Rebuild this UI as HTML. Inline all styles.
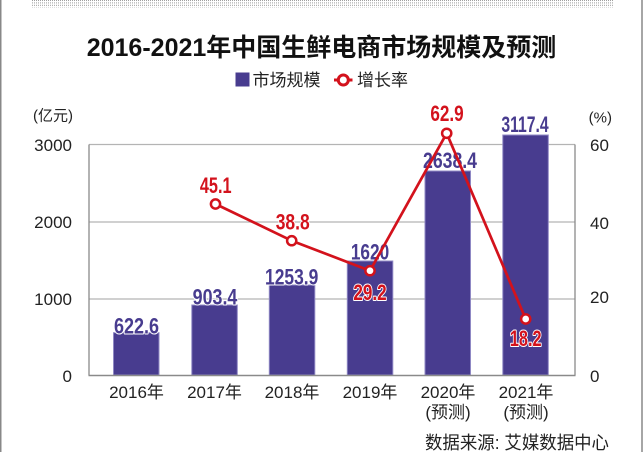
<!DOCTYPE html>
<html><head><meta charset="utf-8"><style>
html,body{margin:0;padding:0;background:#fff;}
svg{display:block;}
text{font-family:"Liberation Sans","Noto Sans CJK SC",sans-serif;}
.v{font-weight:bold;font-size:22px;paint-order:stroke;stroke:#fff;stroke-width:2px;stroke-linejoin:round;}
</style></head><body>
<svg width="644" height="470" viewBox="0 0 644 470" xmlns="http://www.w3.org/2000/svg">
<defs>
<pattern id="dots" x="0" y="0" width="2" height="2.4" patternUnits="userSpaceOnUse">
<rect x="0" y="0" width="1" height="1" fill="#9a9a9a"/>
</pattern>
</defs>
<rect x="0" y="0" width="644" height="470" fill="#fff"/>
<rect x="32" y="0" width="581" height="7.5" fill="url(#dots)"/>
<line x1="0.75" y1="0" x2="0.75" y2="452" stroke="#888" stroke-width="1.5"/>
<line x1="642" y1="0" x2="642" y2="452" stroke="#888" stroke-width="1.5"/>

<text x="321.5" y="56" text-anchor="middle" font-size="25" font-weight="bold" fill="#111">2016-2021年中国生鲜电商市场规模及预测</text>

<rect x="235.5" y="72.5" width="14" height="14" fill="#483c8f"/>
<text x="252.5" y="86" font-size="17" fill="#222">市场规模</text>
<line x1="334" y1="80" x2="352.5" y2="80" stroke="#d3121c" stroke-width="3"/>
<circle cx="343.3" cy="80" r="5" fill="#fff" stroke="#d3121c" stroke-width="3"/>
<text x="357" y="86" font-size="17" fill="#222">增长率</text>

<text x="73" y="120.5" text-anchor="end" font-size="15" fill="#222">(亿元)</text>
<text x="612" y="122.5" text-anchor="end" font-size="15" fill="#222">(%)</text>

<line x1="89" y1="144.5" x2="575" y2="144.5" stroke="#b4b4b4" stroke-width="1.3"/>
<line x1="89" y1="222" x2="575" y2="222" stroke="#b4b4b4" stroke-width="1.3"/>
<line x1="89" y1="299" x2="575" y2="299" stroke="#b4b4b4" stroke-width="1.3"/>

<g font-size="17" fill="#222" text-anchor="end">
<text x="72" y="151">3000</text>
<text x="72" y="228">2000</text>
<text x="72" y="305">1000</text>
<text x="72" y="382">0</text>
</g>
<g font-size="17" fill="#222" text-anchor="start">
<text x="590" y="151">60</text>
<text x="590" y="229">40</text>
<text x="590" y="303">20</text>
<text x="590" y="382">0</text>
</g>

<g fill="#483c8f" stroke="#8f88c4" stroke-width="1">
<rect x="113.5" y="332.7" width="45.5" height="42.3"/>
<rect x="191.8" y="305" width="45.5" height="70"/>
<rect x="269.3" y="285" width="45.5" height="90"/>
<rect x="347.3" y="261" width="45.5" height="114"/>
<rect x="425" y="171" width="45.5" height="204"/>
<rect x="502.8" y="135" width="45.5" height="240"/>
</g>

<line x1="89" y1="144.5" x2="89" y2="375.5" stroke="#8a8a8a" stroke-width="1.3"/>
<line x1="575" y1="144.5" x2="575" y2="375.5" stroke="#8a8a8a" stroke-width="1.3"/>
<line x1="88.5" y1="375.5" x2="575.5" y2="375.5" stroke="#8a8a8a" stroke-width="1.5"/>

<g class="v" fill="#483c8f">
<text x="136.5" y="333.5" text-anchor="middle" textLength="45" lengthAdjust="spacingAndGlyphs">622.6</text>
<text x="215" y="304.5" text-anchor="middle" textLength="44.7" lengthAdjust="spacingAndGlyphs">903.4</text>
<text x="291.7" y="284.5" text-anchor="middle" textLength="53.3" lengthAdjust="spacingAndGlyphs">1253.9</text>
<text x="370" y="259.5" text-anchor="middle" textLength="38.3" lengthAdjust="spacingAndGlyphs">1620</text>
<text x="450" y="168" text-anchor="middle" textLength="54" lengthAdjust="spacingAndGlyphs">2638.4</text>
<text x="525" y="132" text-anchor="middle" textLength="47.3" lengthAdjust="spacingAndGlyphs">3117.4</text>
</g>

<polyline points="215.5,204 291.7,240.7 370,270.7 446.7,133.3 525.7,319" fill="none" stroke="#d3121c" stroke-width="2.7" stroke-linejoin="round"/>
<g fill="#fff" stroke="#d3121c" stroke-width="2.5">
<circle cx="215.5" cy="204" r="4.6"/>
<circle cx="291.7" cy="240.7" r="4.6"/>
<circle cx="370" cy="270.7" r="4.6"/>
<circle cx="446.7" cy="133.3" r="4.6"/>
<circle cx="525.7" cy="319" r="4.6"/>
</g>

<g class="v" fill="#d3121c">
<text x="215.7" y="193" text-anchor="middle" textLength="31.7" lengthAdjust="spacingAndGlyphs">45.1</text>
<text x="292.7" y="229.5" text-anchor="middle" textLength="34" lengthAdjust="spacingAndGlyphs">38.8</text>
<text x="370" y="300" text-anchor="middle" textLength="33.3" lengthAdjust="spacingAndGlyphs">29.2</text>
<text x="447" y="121" text-anchor="middle" textLength="33.3" lengthAdjust="spacingAndGlyphs">62.9</text>
<text x="525.7" y="346" text-anchor="middle" textLength="31.7" lengthAdjust="spacingAndGlyphs">18.2</text>
</g>

<g font-size="17" fill="#222" text-anchor="middle">
<text x="136.5" y="398">2016年</text>
<text x="214.5" y="398">2017年</text>
<text x="292" y="398">2018年</text>
<text x="370" y="398">2019年</text>
<text x="448" y="398">2020年</text>
<text x="526" y="398">2021年</text>
<text x="448" y="418">(预测)</text>
<text x="526" y="418">(预测)</text>
</g>

<text x="425" y="449" font-size="18" fill="#222" textLength="184" lengthAdjust="spacingAndGlyphs">数据来源: 艾媒数据中心</text>
</svg>
</body></html>
